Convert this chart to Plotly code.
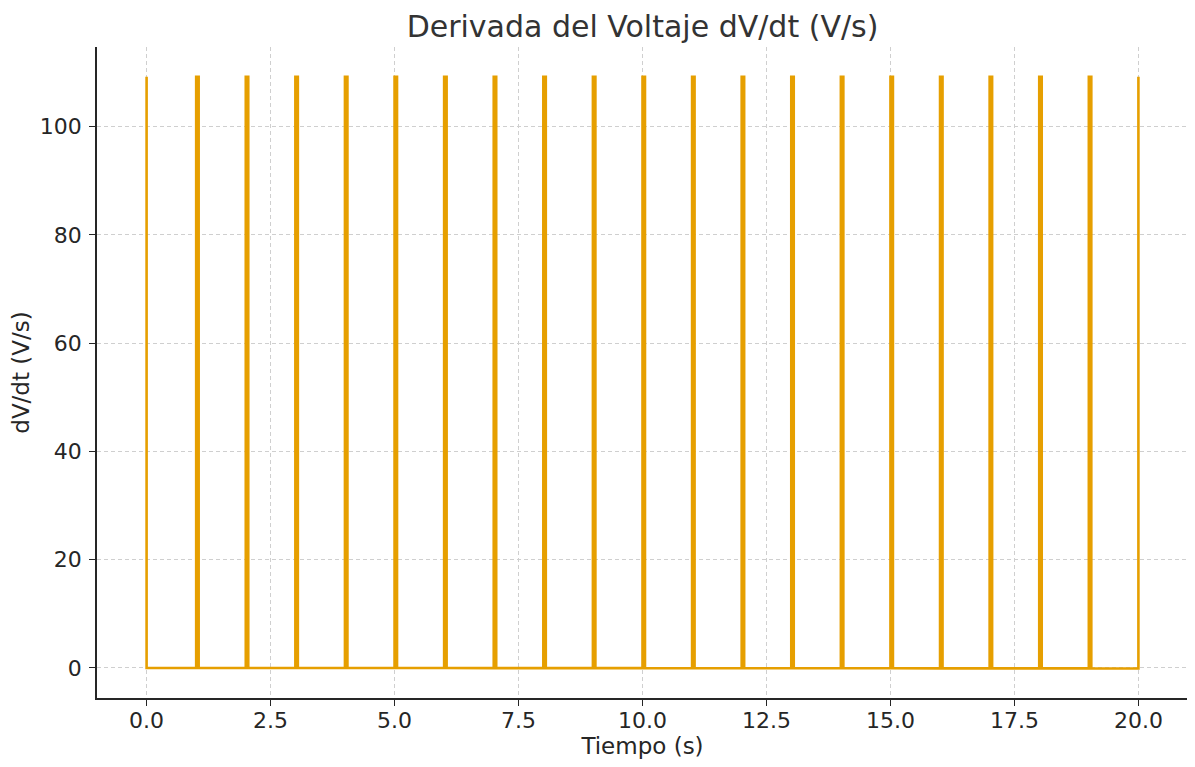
import plotly.graph_objects as go

# Data
spike_times = [float(k) for k in range(21)]            # s
spike_heights = [109.2] * 21                            # V/s
baseline_values = [0.0, -0.005, -0.01, -0.015, -0.02, -0.025, -0.03, -0.035, -0.04, -0.045,
                   -0.05, -0.055, -0.06, -0.065, -0.07, -0.075, -0.08, -0.085, -0.09, -0.095, -0.1]
spike_width = 0.05  # s

x_tick_vals = [0, 2.5, 5, 7.5, 10, 12.5, 15, 17.5, 20]
x_tick_text = ["0.0", "2.5", "5.0", "7.5", "10.0", "12.5", "15.0", "17.5", "20.0"]
y_tick_vals = [0, 20, 40, 60, 80, 100]

# Build the pulse trace from the arrays
xs, ys = [], []
n = len(spike_times)
for i, (t, h, b) in enumerate(zip(spike_times, spike_heights, baseline_values)):
    if i == 0:
        xs += [t, t]
        ys += [h, b]
    elif i == n - 1:
        xs += [t, t]
        ys += [b, h]
    else:
        xs += [t, t, t + spike_width, t + spike_width]
        ys += [b, h, h, b]

color = "#E69F00"
font = "DejaVu Sans"
axis_col = "#262626"

# page body has an 8px default margin; compensate so the plot lands where the reference has it
OFF = 8
W, H = 1195 - OFF, 767 - OFF

fig = go.Figure()
fig.add_trace(go.Scatter(x=xs, y=ys, mode="lines",
                         line=dict(color=color, width=2.6), showlegend=False))

fig.update_layout(
    width=W, height=H,
    paper_bgcolor="white", plot_bgcolor="white",
    margin=dict(l=97 - OFF, r=7, t=47 - OFF, b=69, pad=0),
    font=dict(family=font, color=axis_col),
    title=dict(text="Derivada del Voltaje dV/dt (V/s)", x=0.5, xref="paper",
               y=1 - (26 - OFF) / H, yref="container", yanchor="middle",
               font=dict(family=font, size=30, color="#333333")),
)
fig.update_xaxes(
    range=[-1, 21], tickvals=x_tick_vals, ticktext=x_tick_text, automargin=False,
    showgrid=True, gridcolor="#cfcfcf", griddash="4px,3px", gridwidth=1,
    showline=True, linecolor=axis_col, linewidth=1.6, mirror=False,
    ticks="outside", ticklen=6, tickcolor=axis_col, tickwidth=1.4,
    ticklabelstandoff=-4,
    tickfont=dict(size=22, family=font, color=axis_col),
    title=dict(text="Tiempo (s)", font=dict(size=23, family=font, color=axis_col), standoff=2),
    zeroline=False,
)
fig.update_yaxes(
    range=[-5.56, 114.7], tickvals=y_tick_vals, automargin=False,
    showgrid=True, gridcolor="#cfcfcf", griddash="4px,3px", gridwidth=1,
    showline=True, linecolor=axis_col, linewidth=1.6, mirror=False,
    ticks="outside", ticklen=6, tickcolor=axis_col, tickwidth=1.4,
    ticklabelstandoff=3,
    tickfont=dict(size=22, family=font, color=axis_col),
    title=dict(text="dV/dt (V/s)", font=dict(size=23, family=font, color=axis_col), standoff=12),
    zeroline=False,
)

fig.write_html("out.html")
